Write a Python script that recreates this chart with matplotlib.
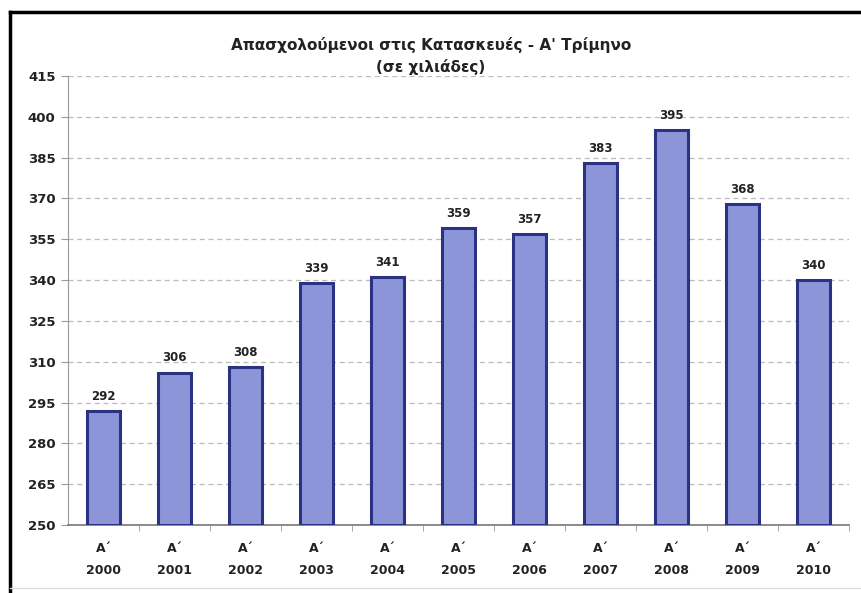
import matplotlib
matplotlib.use("Agg")
import matplotlib.pyplot as plt
from matplotlib.lines import Line2D

years = ["2000", "2001", "2002", "2003", "2004", "2005", "2006", "2007", "2008", "2009", "2010"]
values = [292, 306, 308, 339, 341, 359, 357, 383, 395, 368, 340]
quarter = "Α΄"
yticks = [250, 265, 280, 295, 310, 325, 340, 355, 370, 385, 400, 415]
title = "Απασχολούμενοι στις Κατασκευές - Α' Τρίμηνο\n(σε χιλιάδες)"

plt.rcParams['font.family'] = ['DejaVu Sans']

fig = plt.figure(figsize=(8.62, 5.93), dpi=100)
ax = fig.add_axes([68/862, 1-525/593, (849-68)/862, (525-76)/593])

x = list(range(len(years)))
ax.bar(x, [v - 250 for v in values], bottom=250, width=0.46,
       color="#8b95d8", edgecolor="#2b3183", linewidth=2.2, zorder=3)

for xi, v in zip(x, values):
    ax.text(xi, v + 3, str(v), ha="center", va="bottom", fontsize=8.5,
            fontweight="bold", color="#222222", zorder=4)

ax.set_xlim(-0.5, len(years) - 0.5)
ax.set_ylim(250, 415)
ax.set_yticks(yticks)
ax.set_yticklabels([str(t) for t in yticks], fontsize=9.5, fontweight="bold", color="#222222")
ax.set_xticks(x)
ax.set_xticklabels([f"{quarter}\n{y}" for y in years], fontsize=9, fontweight="bold",
                   color="#222222", linespacing=1.9)
ax.tick_params(axis="x", length=0, pad=12)
ax.tick_params(axis="y", length=5, color="#999999", pad=4, direction="out")
ax.set_xticks([i + 0.5 for i in range(len(years))], minor=True)
ax.tick_params(axis="x", which="minor", length=4, color="#999999", direction="out")

ax.yaxis.grid(True, linestyle=(0, (4, 3)), color="#bbbbbb", linewidth=0.9, zorder=0)
for s in ["top", "right"]:
    ax.spines[s].set_visible(False)
ax.spines["left"].set_color("#999999")
ax.spines["bottom"].set_color("#777777")
ax.spines["bottom"].set_linewidth(1.2)

fig.text(431/862, 1-37/593, title, ha="center", va="top", fontsize=11,
         fontweight="bold", color="#222222", linespacing=1.45)

fig.add_artist(Line2D([10/862, 1], [1-12/593, 1-12/593], color="black", linewidth=2.5,
                      transform=fig.transFigure))
fig.add_artist(Line2D([10/862, 10/862], [0, 1-12/593], color="black", linewidth=2.5,
                      transform=fig.transFigure))
fig.add_artist(Line2D([10/862, 1], [5/593, 5/593], color="#dddddd", linewidth=1,
                      transform=fig.transFigure))

fig.savefig("out.png", dpi=100)
